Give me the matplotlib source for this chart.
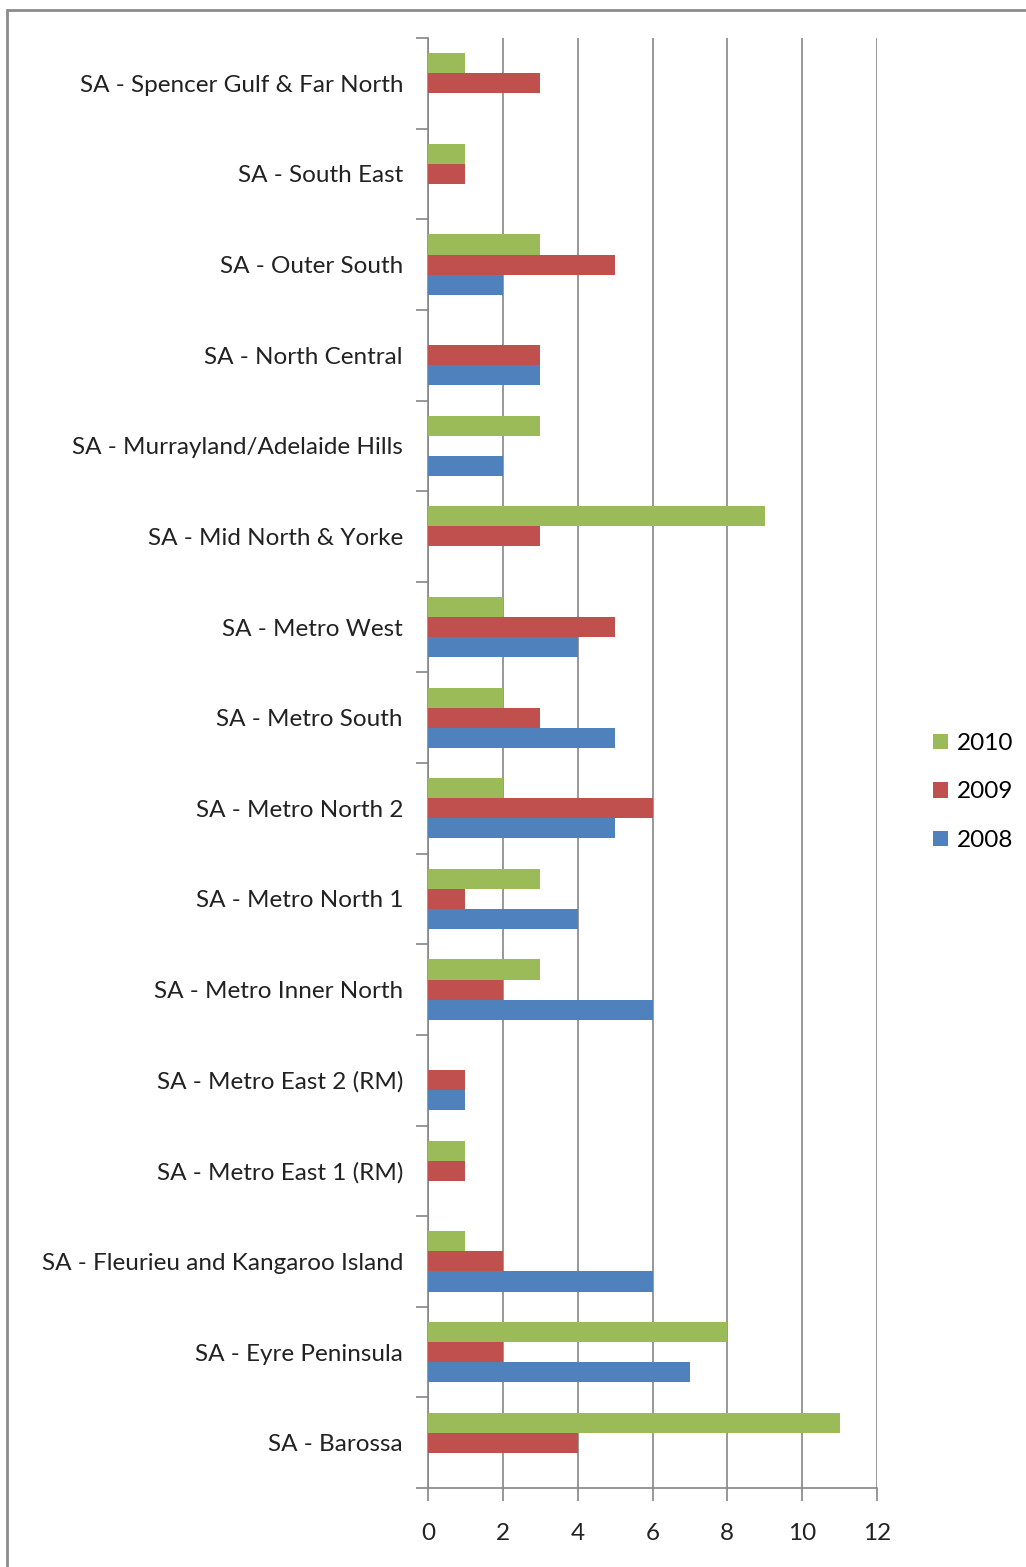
import matplotlib
matplotlib.use("Agg")
import matplotlib.pyplot as plt
from matplotlib.patches import Rectangle
import numpy as np

categories = [
    "SA - Barossa",
    "SA - Eyre Peninsula",
    "SA - Fleurieu and Kangaroo Island",
    "SA - Metro East 1 (RM)",
    "SA - Metro East 2 (RM)",
    "SA - Metro Inner North",
    "SA - Metro North 1",
    "SA - Metro North 2",
    "SA - Metro South",
    "SA - Metro West",
    "SA - Mid North & Yorke",
    "SA - Murrayland/Adelaide Hills",
    "SA - North Central",
    "SA - Outer South",
    "SA - South East",
    "SA - Spencer Gulf & Far North",
]
v2008 = [0, 7, 6, 0, 1, 6, 4, 5, 5, 4, 0, 2, 3, 2, 0, 0]
v2009 = [4, 2, 2, 1, 1, 2, 1, 6, 3, 5, 3, 0, 3, 5, 1, 3]
v2010 = [11, 8, 1, 1, 0, 3, 3, 2, 2, 2, 9, 3, 0, 3, 1, 1]
xticks = [0, 2, 4, 6, 8, 10, 12]

plt.rcParams['font.family'] = ['Lato', 'DejaVu Sans']

W, H = 1026, 1567
fig = plt.figure(figsize=(W / 100, H / 100), dpi=100)
fig.patches.append(Rectangle((7 / W, -0.1), 1.2, 1.1 - 10 / H,
                             transform=fig.transFigure, fill=False,
                             edgecolor='#8c8c8c', linewidth=2, zorder=0))

ax = fig.add_axes([428 / W, 1 - 1488 / H, (877 - 428) / W, (1488 - 38) / H])
y = np.arange(len(categories))
h = 0.222
c08, c09, c10 = '#4F81BD', '#C0504D', '#9BBB59'
ax.barh(y - h, v2008, height=h, color=c08, label='2008', zorder=3)
ax.barh(y, v2009, height=h, color=c09, label='2009', zorder=3)
ax.barh(y + h, v2010, height=h, color=c10, label='2010', zorder=3)

ax.set_xlim(0, 12)
ax.set_ylim(-0.5, len(categories) - 0.5)
ax.set_xticks(xticks)
ax.set_xticklabels([str(t) for t in xticks], fontsize=17.5, color='#222222')
ax.set_yticks(y)
ax.set_yticklabels(categories, fontsize=17.5, color='#222222')
ax.tick_params(axis='y', length=0, pad=18)
ax.tick_params(axis='x', length=9, color='#868686', width=1.2, pad=16)
ax.set_yticks(np.arange(len(categories) + 1) - 0.5, minor=True)
ax.tick_params(axis='y', which='minor', length=9, color='#868686', width=1.2)
ax.xaxis.grid(True, color='#868686', linewidth=1.2, zorder=0)
for s in ['top', 'right']:
    ax.spines[s].set_visible(False)
for s in ['left', 'bottom']:
    ax.spines[s].set_color('#868686')
    ax.spines[s].set_linewidth(1.2)

handles, labels = ax.get_legend_handles_labels()
leg = fig.legend(handles[::-1], labels[::-1], loc='center left',
                 bbox_to_anchor=(933 / W, 1 - 792 / H), frameon=False,
                 fontsize=17.5, handlelength=0.62, handleheight=0.62,
                 handletextpad=0.35, labelspacing=1.13, borderpad=0,
                 borderaxespad=0)

fig.savefig('out.png', dpi=100)
